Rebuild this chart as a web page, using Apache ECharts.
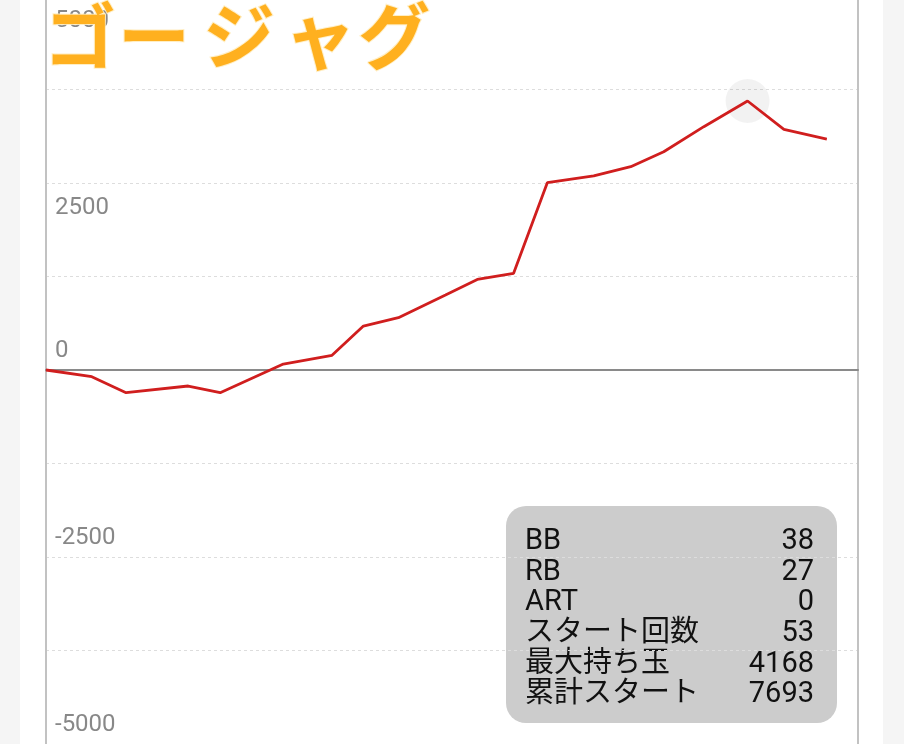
<!DOCTYPE html>
<html>
<head>
<meta charset="utf-8">
<script src="https://cdn.jsdelivr.net/npm/echarts@6/dist/echarts.min.js"></script>
<style>
  html, body { margin: 0; padding: 0; background: #f5f5f5; }
  #wrap { position: relative; width: 904px; height: 744px; overflow: hidden; background: #f5f5f5; }
  #panel { position: absolute; left: 20px; top: 0; width: 863px; height: 744px; background: #ffffff; }
  #chart { position: absolute; left: 0; top: -4px; width: 904px; height: 748px; }
</style>
</head>
<body>
<div id="wrap"><div id="panel"></div><div id="chart"></div></div>
<script>
// ---- data ----
const titleText = 'ゴージャグ';
const games = [0, 451, 789, 1401, 1716, 2338, 2818, 3127, 3472, 3936, 4249, 4607, 4939, 5396, 5761, 6086, 6481, 6912, 7270, 7693];
const diffs = [0, -90, -303, -214, -303, 80, 197, 588, 699, 1003, 1210, 1293, 2504, 2594, 2718, 2918, 3253, 3596, 3218, 3088];
const yTicks = [-5000, -2500, 0, 2500, 5000];
const infoLabels = ['BB', 'RB', 'ART', 'スタート回数', '最大持ち玉', '累計スタート'];
const infoValues = ['38', '27', '0', '53', '4168', '7693'];

const chart = echarts.init(document.getElementById('chart'), null, { renderer: 'canvas' });

const seriesData = games.map((g, i) => [g, diffs[i]]);

// canvas is shifted up by 4px, so page y = canvas y - 4
const OFF = 4;

const titleX = [44, 118, 203, 284, 358];
const titleChars = titleText.split('').map((ch, i) => ({
  type: 'text',
  x: titleX[i],
  y: 0 + OFF,
  style: {
    text: ch,
    fill: '#ffb01f',
    stroke: 'rgba(255,236,190,0.9)',
    lineWidth: 2,
    font: 'bold 72px "Noto Sans CJK JP"'
  },
  z: 100
}));

const rowH = 30.6;
const infoChildren = [{
  type: 'rect',
  shape: { x: 0, y: 0, width: 331, height: 217, r: 20 },
  style: { fill: '#cccccc' }
}];
infoLabels.forEach((lab, i) => {
  infoChildren.push({
    type: 'text', x: 19, y: 36 + i * rowH,
    style: { text: lab, fill: '#111', font: '29px Roboto, "Noto Sans CJK JP"', verticalAlign: 'middle', textAlign: 'left' }
  });
  infoChildren.push({
    type: 'text', x: 308, y: 36 + i * rowH,
    style: { text: infoValues[i], fill: '#111', font: '29px Roboto, "Noto Sans CJK JP"', verticalAlign: 'middle', textAlign: 'right' }
  });
});

chart.setOption({
  backgroundColor: 'transparent',
  animation: false,
  grid: { left: 46, right: 46, top: 0, bottom: 0, containLabel: false },
  xAxis: {
    type: 'value', min: 0, max: 8000,
    axisLine: { show: true, onZero: true, lineStyle: { color: '#8a8a8a', width: 2 } },
    axisTick: { show: false }, axisLabel: { show: false }, splitLine: { show: false }
  },
  yAxis: [{
    type: 'value', min: -5000, max: 5000, interval: 1250,
    axisLine: { show: true, lineStyle: { color: '#c2c2c2', width: 2 } },
    axisTick: { show: false },
    splitLine: { show: true, lineStyle: { color: '#dddddd', type: [3, 3], width: 1 } },
    axisLabel: {
      inside: true, margin: 9, color: '#888888', fontSize: 24, fontFamily: 'Roboto',
      showMinLabel: true, showMaxLabel: true,
      formatter: function (v) {
        if (yTicks.indexOf(v) < 0) return '';
        return v > 0 ? '{d|' + v + '}' : '{u|' + v + '}';
      },
      rich: {
        d: { padding: [50, 0, 0, 0], fontSize: 24, color: '#888888', fontFamily: 'Roboto' },
        u: { padding: [0, 0, 38, 0], fontSize: 24, color: '#888888', fontFamily: 'Roboto' }
      }
    }
  }, {
    type: 'value', position: 'right', min: -5000, max: 5000, interval: 1250,
    axisLine: { show: true, lineStyle: { color: '#c2c2c2', width: 2 } },
    axisTick: { show: false }, axisLabel: { show: false }, splitLine: { show: false }
  }],
  graphic: titleChars.concat([{
    type: 'group', x: 506, y: 506 + OFF, z: 100, children: infoChildren
  }]),
  series: [{
    type: 'line',
    data: seriesData,
    showSymbol: false,
    symbol: 'none',
    lineStyle: { color: '#d01e1e', width: 2.8 },
    z: 5,
    markPoint: {
      silent: true,
      symbol: 'circle',
      symbolSize: 44,
      itemStyle: { color: 'rgba(0,0,0,0.05)' },
      label: { show: false },
      data: [{ type: 'max', valueDim: 'y' }]
    }
  }]
});
</script>
</body>
</html>
